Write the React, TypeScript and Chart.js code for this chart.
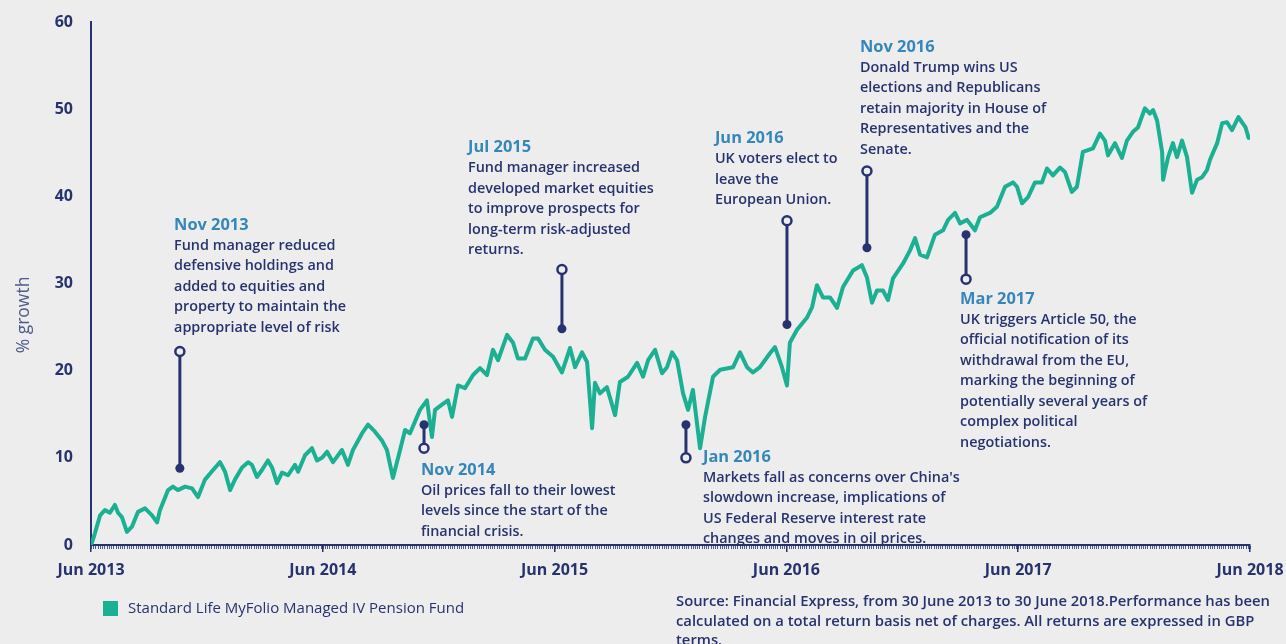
import React, { useEffect, useRef } from 'react';
import { Chart, registerables } from 'chart.js';

Chart.register(...registerables);

// months elapsed since 30 June 2013
const monthsSinceJun2013 = [
  0.04, 0.21, 0.47, 0.72, 0.98, 1.24, 1.40, 1.60, 1.86, 2.12, 2.43, 2.80, 3.16, 3.42, 3.57, 3.99,
  4.24, 4.50, 4.87, 5.23, 5.54, 5.90, 6.32, 6.68, 6.94, 7.20, 7.45, 7.82, 8.13, 8.33, 8.59, 8.85,
  9.16, 9.37, 9.63, 9.89, 10.20, 10.56, 10.72, 11.08, 11.44, 11.70, 11.96, 12.22, 12.53, 12.99,
  13.30, 13.56, 14.03, 14.34, 14.70, 15.06, 15.32, 15.63, 16.00, 16.26, 16.51, 17.03, 17.39,
  17.65, 17.81, 18.17, 18.48, 18.69, 19.00, 19.36, 19.78, 20.14, 20.50, 20.81, 21.07, 21.54,
  21.85, 22.10, 22.47, 22.88, 23.14, 23.50, 23.92, 24.38, 24.80, 25.06, 25.42, 25.68, 25.94,
  26.09, 26.35, 26.71, 27.13, 27.38, 27.80, 28.27, 28.58, 28.84, 29.20, 29.56, 29.82, 30.08,
  30.34, 30.65, 30.91, 31.16, 31.53, 31.79, 32.20, 32.57, 33.24, 33.60, 33.96, 34.27, 34.63,
  35.15, 35.41, 35.77, 36.03, 36.18, 36.55, 37.07, 37.33, 37.58, 37.89, 38.26, 38.62, 38.93,
  39.45, 39.91, 40.17, 40.43, 40.69, 41.00, 41.26, 41.52, 42.04, 42.40, 42.66, 42.92, 43.28,
  43.69, 44.11, 44.37, 44.73, 44.99, 45.35, 45.76, 46.02, 46.54, 46.90, 47.32, 47.73, 47.94,
  48.20, 48.51, 48.87, 49.23, 49.49, 49.80, 50.16, 50.42, 50.78, 51.04, 51.35, 51.87, 52.23,
  52.49, 52.65, 53.01, 53.37, 53.63, 53.94, 54.20, 54.56, 54.82, 54.98, 55.19, 55.45, 55.50,
  55.76, 56.01, 56.22, 56.48, 56.74, 57.00, 57.26, 57.52, 57.77, 57.93, 58.30, 58.56, 58.81,
  59.07, 59.40, 59.77, 59.93,
];

// cumulative % growth
const growthPct = [
  0.2, 1.4, 3.4, 4.0, 3.7, 4.6, 3.7, 3.2, 1.5, 2.1, 3.8, 4.2, 3.4, 2.6, 4.0, 6.3,
  6.7, 6.3, 6.7, 6.5, 5.5, 7.5, 8.6, 9.5, 8.4, 6.3, 7.5, 8.9, 9.5, 9.2, 7.8, 8.6,
  9.7, 8.9, 7.1, 8.3, 8.0, 9.2, 8.4, 10.3, 11.1, 9.7, 10.0, 10.7, 9.5, 10.9,
  9.2, 10.9, 12.8, 13.8, 13.0, 12.0, 10.9, 7.7, 10.9, 13.2, 12.8, 15.5, 16.6,
  12.4, 15.5, 16.1, 16.6, 14.7, 18.3, 18.0, 19.5, 20.3, 19.5, 22.4, 21.2, 24.1,
  23.2, 21.4, 21.4, 23.7, 23.7, 22.4, 21.6, 19.8, 22.6, 20.4, 22.1, 21.0, 13.4,
  18.6, 17.4, 18.1, 14.9, 18.7, 19.3, 20.9, 19.3, 21.2, 22.4, 19.7, 20.4, 22.1,
  21.2, 17.4, 15.5, 17.8, 11.1, 14.7, 19.3, 20.1, 20.4, 22.1, 20.4, 19.8, 20.4,
  22.0, 22.7, 20.4, 18.3, 23.2, 24.7, 26.1, 27.3, 29.8, 28.4, 28.4, 27.2, 29.6,
  31.5, 32.1, 30.7, 27.8, 29.2, 29.2, 28.1, 30.6, 32.3, 33.8, 35.2, 33.3, 33.0,
  35.6, 36.1, 37.3, 38.1, 36.9, 37.3, 36.1, 37.6, 38.1, 38.8, 41.1, 41.6, 41.1,
  39.2, 39.9, 41.6, 41.6, 43.2, 42.4, 43.3, 42.8, 40.5, 41.1, 45.1, 45.5, 47.2,
  46.4, 44.7, 46.1, 44.4, 46.4, 47.4, 47.9, 50.1, 49.5, 49.9, 48.7, 45.1, 41.9,
  44.5, 46.1, 44.5, 46.4, 44.5, 40.4, 41.9, 42.2, 43.0, 44.2, 46.1, 48.4, 48.5,
  47.6, 49.1, 47.9, 46.7,
];

const xTickMonths = [0, 12, 24, 36, 48, 60];
const xTickLabels = ['Jun 2013', 'Jun 2014', 'Jun 2015', 'Jun 2016', 'Jun 2017', 'Jun 2018'];
const yTickValues = [0, 10, 20, 30, 40, 50, 60];
const yAxisTitle = '% growth';
const seriesLabel = 'Standard Life MyFolio Managed IV Pension Fund';
const sourceLines = [
  'Source: Financial Express, from 30 June 2013 to 30 June 2018.Performance has been',
  'calculated on a total return basis net of charges. All returns are expressed in GBP',
  'terms.',
];

// event markers (x in months, open-circle end and dot end in % growth)
const eventMonths = [4.6, 17.24, 24.38, 30.8, 36.03, 40.17, 45.3];
const eventOpenEnd = [22.2, 11.1, 31.6, 10.0, 37.2, 42.9, 30.5];
const eventDotEnd = [8.8, 13.8, 24.8, 13.8, 25.3, 34.1, 35.6];
const eventTextMonth = [4.3, 17.08, 19.52, 31.68, 32.3, 39.81, 44.99];
const eventTextValue = [36.7, 8.6, 45.6, 10.1, 46.6, 57.1, 28.2];
const eventTitles = ['Nov 2013', 'Nov 2014', 'Jul 2015', 'Jan 2016', 'Jun 2016', 'Nov 2016', 'Mar 2017'];
const eventBodies = [
  ['Fund manager reduced', 'defensive holdings and', 'added to equities and', 'property to maintain the', 'appropriate level of risk'],
  ['Oil prices fall to their lowest', 'levels since the start of the', 'financial crisis.'],
  ['Fund manager increased', 'developed market equities', 'to improve prospects for', 'long-term risk-adjusted', 'returns.'],
  ["Markets fall as concerns over China's", 'slowdown increase, implications of', 'US Federal Reserve interest rate', 'changes and moves in oil prices.'],
  ['UK voters elect to', 'leave the', 'European Union.'],
  ['Donald Trump wins US', 'elections and Republicans', 'retain majority in House of', 'Representatives and the', 'Senate.'],
  ['UK triggers Article 50, the', 'official notification of its', 'withdrawal from the EU,', 'marking the beginning of', 'potentially several years of', 'complex political', 'negotiations.'],
];

const BG = '#ededed';
const NAVY = '#26336e';
const TEAL = '#1bb092';
const TITLE_BLUE = '#3586b9';
const FONT = "'Open Sans', 'DejaVu Sans', sans-serif";

const overlayPlugin = {
  id: 'overlay',
  beforeDraw(chart: any) {
    const ctx = chart.ctx;
    ctx.save();
    ctx.fillStyle = BG;
    ctx.fillRect(0, 0, chart.width, chart.height);
    ctx.restore();
  },
  afterDraw(chart: any) {
    const ctx = chart.ctx;
    const xs = chart.scales.x;
    const ys = chart.scales.y;
    const area = chart.chartArea;
    ctx.save();

    // minor ticks along x axis
    ctx.strokeStyle = NAVY;
    ctx.lineWidth = 1;
    ctx.globalAlpha = 0.8;
    const n = 520;
    ctx.beginPath();
    for (let i = 0; i <= n; i++) {
      const x = Math.round(area.left + (i * (area.right - area.left)) / n) + 0.5;
      ctx.moveTo(x, area.bottom + 1);
      ctx.lineTo(x, area.bottom + 4);
    }
    ctx.stroke();
    ctx.globalAlpha = 1;

    // event markers
    for (let i = 0; i < eventMonths.length; i++) {
      const x = xs.getPixelForValue(eventMonths[i]);
      const yo = ys.getPixelForValue(eventOpenEnd[i]);
      const yd = ys.getPixelForValue(eventDotEnd[i]);
      ctx.strokeStyle = NAVY;
      ctx.lineWidth = 3;
      ctx.beginPath();
      ctx.moveTo(x, yo);
      ctx.lineTo(x, yd);
      ctx.stroke();
      ctx.fillStyle = NAVY;
      ctx.beginPath();
      ctx.arc(x, yd, 4.5, 0, Math.PI * 2);
      ctx.fill();
      ctx.fillStyle = BG;
      ctx.lineWidth = 2.5;
      ctx.beginPath();
      ctx.arc(x, yo, 4.5, 0, Math.PI * 2);
      ctx.fill();
      ctx.stroke();

      // text
      const tx = xs.getPixelForValue(eventTextMonth[i]);
      const ty = ys.getPixelForValue(eventTextValue[i]);
      ctx.textAlign = 'left';
      ctx.textBaseline = 'middle';
      ctx.fillStyle = TITLE_BLUE;
      ctx.font = `bold 16.4px ${FONT}`;
      ctx.fillText(eventTitles[i], tx, ty);
      ctx.fillStyle = NAVY;
      ctx.font = `600 14.4px ${FONT}`;
      eventBodies[i].forEach((line, j) => {
        ctx.fillText(line, tx, ty + 20.5 * (j + 1));
      });
    }

    // y axis title
    ctx.save();
    ctx.translate(24, 315);
    ctx.rotate(-Math.PI / 2);
    ctx.fillStyle = '#4d5b8c';
    ctx.font = `17.5px ${FONT}`;
    ctx.textAlign = 'center';
    ctx.textBaseline = 'middle';
    ctx.fillText(yAxisTitle, 0, 0);
    ctx.restore();

    // legend
    ctx.fillStyle = TEAL;
    ctx.fillRect(103, 601, 15, 15);
    ctx.fillStyle = NAVY;
    ctx.font = `15px ${FONT}`;
    ctx.textAlign = 'left';
    ctx.textBaseline = 'middle';
    ctx.fillText(seriesLabel, 128, 609);

    // source
    ctx.font = `600 14.8px ${FONT}`;
    sourceLines.forEach((line, j) => {
      ctx.fillText(line, 676, 602 + 19.5 * j);
    });

    ctx.restore();
  },
};

export default function App() {
  const canvasRef = useRef<HTMLCanvasElement | null>(null);

  useEffect(() => {
    if (!canvasRef.current) return;
    const chart = new Chart(canvasRef.current, {
      type: 'line',
      data: {
        datasets: [
          {
            label: seriesLabel,
            data: monthsSinceJun2013.map((m, i) => ({ x: m, y: growthPct[i] })),
            borderColor: TEAL,
            backgroundColor: TEAL,
            borderWidth: 4,
            pointRadius: 0,
            tension: 0,
            borderJoinStyle: 'round',
            borderCapStyle: 'round',
          },
        ],
      },
      options: {
        responsive: false,
        animation: false,
        layout: { padding: { left: 0, right: 36, top: 22, bottom: 0 } },
        plugins: {
          legend: { display: false },
          tooltip: { enabled: false },
        },
        scales: {
          x: {
            type: 'linear',
            min: 0,
            max: 60,
            afterBuildTicks: (scale: any) => {
              scale.ticks = xTickMonths.map((v) => ({ value: v }));
            },
            afterFit: (scale: any) => {
              scale.height = 99;
              scale.paddingLeft = 0;
              scale.paddingRight = 0;
            },
            grid: {
              display: true,
              drawOnChartArea: false,
              drawTicks: true,
              tickLength: 7,
              color: NAVY,
              lineWidth: 1.5,
            },
            border: { display: true, color: NAVY, width: 2 },
            ticks: {
              autoSkip: false,
              maxRotation: 0,
              padding: 9,
              color: NAVY,
              font: { family: FONT, size: 16, weight: 'bold' },
              callback: (_v: any, i: number) => xTickLabels[i],
            },
          },
          y: {
            type: 'linear',
            min: 0,
            max: 60,
            afterBuildTicks: (scale: any) => {
              scale.ticks = yTickValues.map((v) => ({ value: v }));
            },
            afterFit: (scale: any) => {
              scale.width = 91;
              scale.paddingTop = 0;
              scale.paddingBottom = 0;
            },
            grid: { display: true, drawOnChartArea: false, drawTicks: false },
            border: { display: true, color: NAVY, width: 2 },
            ticks: {
              padding: 18,
              color: NAVY,
              font: { family: FONT, size: 16, weight: 'bold' },
            },
          },
        },
      },
      plugins: [overlayPlugin],
    } as any);
    return () => chart.destroy();
  }, []);

  return (
    <div style={{ position: 'fixed', left: 0, top: 0, width: 1286, height: 644, background: BG }}>
      <canvas ref={canvasRef} width={1286} height={644} style={{ display: 'block' }} />
    </div>
  );
}
